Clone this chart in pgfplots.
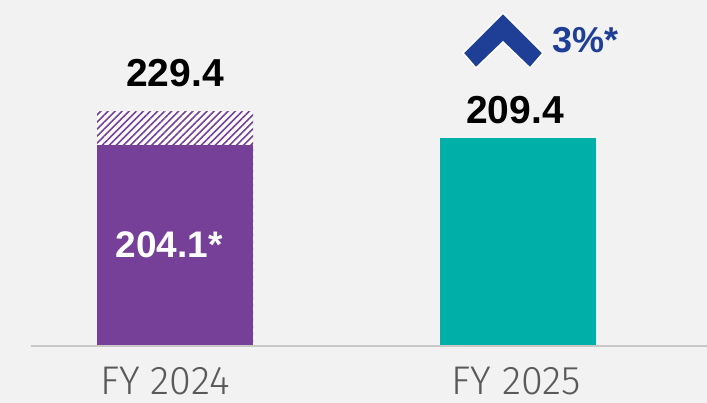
\documentclass[border=0pt]{standalone}
\usepackage{pgfplots}
\pgfplotsset{compat=1.18}
\usetikzlibrary{patterns.meta}
\usepackage{fontspec}
\setmainfont{Liberation Sans}
\newfontfamily\lightfont{Fira Sans Light}[FakeStretch=0.99]
\definecolor{bg}{HTML}{F2F2F2}
\definecolor{fypurple}{HTML}{763F98}
\definecolor{fyteal}{HTML}{00B0A8}
\definecolor{fyblue}{HTML}{1F3F96}
\definecolor{baseln}{HTML}{C8C8C8}
\definecolor{lblgray}{HTML}{595959}
\begin{document}
\begin{tikzpicture}[x=1pt,y=1pt]
\fill[bg] (0,0) rectangle (707,403);
\useasboundingbox (0,0) rectangle (707,403);
\begin{axis}[
  at={(31pt,57pt)}, anchor=south west,
  scale only axis, width=676pt, height=346pt,
  xmin=0, xmax=676, ymin=53, ymax=312.76,
  hide axis,
  ybar, bar width=156pt, bar shift=0pt,
]
% FY 2024 total (hatched part shows above solid part)
\addplot[draw=none, fill=white,
  postaction={pattern={Lines[angle=45,distance=5pt,line width=1.6pt]}, pattern color=fypurple}]
  coordinates {(144,229.4)};
% FY 2024 solid
\addplot[draw=none, fill=fypurple] coordinates {(144,204.1)};
% FY 2025
\addplot[draw=none, fill=fyteal] coordinates {(487,209.4)};
\node[anchor=base, yshift=25pt, font=\fontsize{39}{39}\selectfont\bfseries] at (axis cs:144,229.4) {229.4};
\node[anchor=base, yshift=14pt, font=\fontsize{39}{39}\selectfont\bfseries] at (axis cs:484,209.4) {209.4};
\node[anchor=base, text=white, font=\fontsize{37}{37}\selectfont\bfseries] at (axis cs:138,119.8) {204.1*};
\end{axis}
\draw[baseln, line width=1.5pt] (31,57) -- (707,57);
\node[anchor=base, text=lblgray, font=\lightfont\fontsize{40}{40}\selectfont, inner sep=0pt] at (165,8) {FY 2024};
\node[anchor=base, text=lblgray, font=\lightfont\fontsize{40}{40}\selectfont, inner sep=0pt] at (516,8) {FY 2025};
% up chevron
\filldraw[fill=fyblue, draw=white, line width=1.5pt, line join=miter]
  (463,350) -- (503,390) -- (543,350) -- (530,335) -- (503,361) -- (476,335) -- cycle;
\node[anchor=base west, inner sep=0pt, text=fyblue, font=\fontsize{36}{36}\selectfont\bfseries] at (552,350) {3\%*};
\end{tikzpicture}
\end{document}
